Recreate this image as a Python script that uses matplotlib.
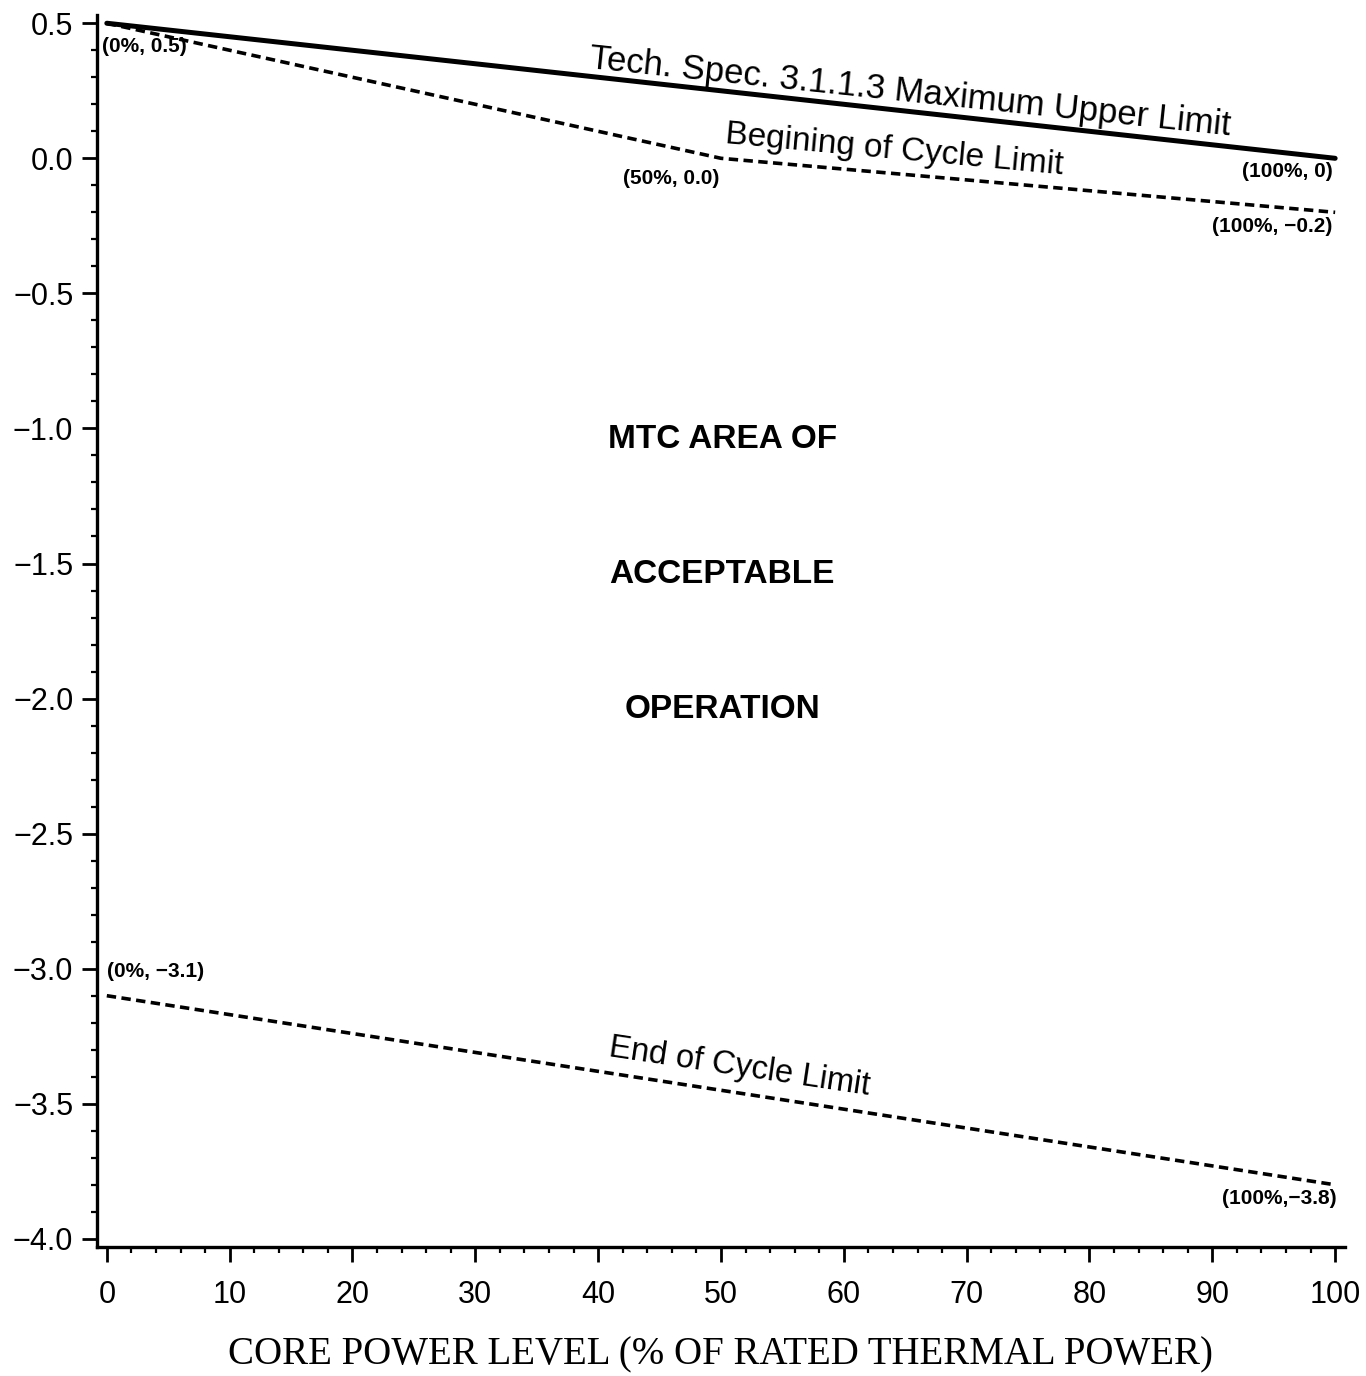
import matplotlib
matplotlib.use('Agg')
import matplotlib.pyplot as plt
from matplotlib.ticker import MultipleLocator

# limit lines (core power %, MTC)
upper_x = [0, 100]
upper_y = [0.5, 0.0]
boc_x = [0, 50, 100]
boc_y = [0.5, 0.0, -0.2]
eoc_x = [0, 100]
eoc_y = [-3.1, -3.8]

# point labels: x, y, text, horizontal alignment
point_labels = [
    (-0.4, 0.415, '(0%, 0.5)', 'left'),
    (49.9, -0.076, '(50%, 0.0)', 'right'),
    (99.8, -0.047, '(100%, 0)', 'right'),
    (99.8, -0.254, '(100%, \u22120.2)', 'right'),
    (0.0, -3.009, '(0%, \u22123.1)', 'left'),
    (100.1, -3.852, '(100%,\u22123.8)', 'right'),
]
area_lines = ['MTC AREA OF', 'ACCEPTABLE', 'OPERATION']
area_y = [-1.04, -1.54, -2.04]

plt.rcParams['font.family'] = ['Liberation Sans', 'DejaVu Sans']

fig = plt.figure(figsize=(13.66, 13.76), dpi=100)
ax = fig.add_axes([0.071, 0.0938, 0.9136, 0.8952])

ax.plot(upper_x, upper_y, color='black', lw=3.6, solid_capstyle='round')
ax.plot(boc_x, boc_y, color='black', lw=2.6, dashes=(2.6, 1.5))
ax.plot(eoc_x, eoc_y, color='black', lw=2.6, dashes=(2.6, 1.5))

ax.set_xlim(-0.8, 100.8)
ax.set_ylim(-4.03, 0.53)
ax.xaxis.set_major_locator(MultipleLocator(10))
ax.xaxis.set_minor_locator(MultipleLocator(2))
ax.yaxis.set_major_locator(MultipleLocator(0.5))
ax.yaxis.set_minor_locator(MultipleLocator(0.1))
ax.yaxis.set_major_formatter(plt.FuncFormatter(lambda v, p: f'{v:.1f}'.replace('-', '\u2212')))

for s in ['top', 'right']:
    ax.spines[s].set_visible(False)
for s in ['left', 'bottom']:
    ax.spines[s].set_linewidth(2.4)
ax.tick_params(axis='both', which='major', length=11, width=2, labelsize=22, pad=6)
ax.tick_params(axis='both', which='minor', length=4, width=1.6)
ax.tick_params(axis='x', which='major', pad=13)

ax.set_xlabel('CORE POWER LEVEL (% OF RATED THERMAL POWER)', family=['Liberation Serif', 'DejaVu Serif'],
              fontsize=28, labelpad=19)

ax.text(65.4, 0.245, 'Tech. Spec. 3.1.1.3 Maximum Upper Limit', rotation=-6, fontsize=25,
        ha='center', va='center', rotation_mode='anchor')
ax.text(64.1, 0.03, 'Begining of Cycle Limit', rotation=-5.3, fontsize=24,
        ha='center', va='center', rotation_mode='anchor')
ax.text(51.5, -3.365, 'End of Cycle Limit', rotation=-8.5, fontsize=23.5,
        ha='center', va='center', rotation_mode='anchor')

for t, y in zip(area_lines, area_y):
    ax.text(50.1, y, t, fontsize=24, fontweight='bold', ha='center', va='center')

for x, y, t, ha in point_labels:
    ax.text(x, y, t, fontsize=15, fontweight='bold', ha=ha, va='center')

fig.savefig('out.png', dpi=100)
